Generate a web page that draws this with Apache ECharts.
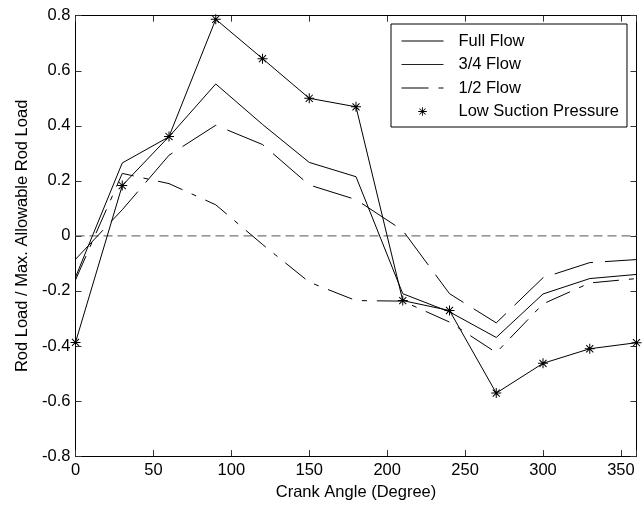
<!DOCTYPE html>
<html><head><meta charset="utf-8">
<script src="https://cdn.jsdelivr.net/npm/echarts@6/dist/echarts.min.js"></script>
<style>html,body{margin:0;padding:0;background:#fff}#c{width:644px;height:506px}</style>
</head><body><div id="c"></div>
<script>
const crankAngle = [0, 30, 60, 90, 120, 150, 180, 210, 240, 270, 300, 330, 360];
const fullFlow = [-0.15, 0.265, 0.36, 0.552, 0.405, 0.267, 0.215, -0.21, -0.276, -0.369, -0.211, -0.155, -0.14];
const threeQuarterFlow = [-0.085, 0.095, 0.293, 0.402, 0.332, 0.185, 0.132, 0.02, -0.21, -0.316, -0.152, -0.097, -0.086];
const halfFlow = [-0.16, 0.227, 0.19, 0.113, -0.031, -0.168, -0.235, -0.237, -0.313, -0.424, -0.247, -0.171, -0.155];
const lowSuction = [-0.387, 0.183, 0.361, 0.787, 0.644, 0.50, 0.469, -0.235, -0.271, -0.571, -0.463, -0.41, -0.388];
const zeroLine = [0, 0];
const zeroLineX = [0, 360];
const seriesNames = ['Full Flow', '3/4 Flow', '1/2 Flow', 'Low Suction Pressure'];

const STAR = 'path://M-0.5,-5L0.5,-5L0.5,5L-0.5,5Z M-5,-0.5L5,-0.5L5,0.5L-5,0.5Z M3.182,-3.889L3.889,-3.182L-3.182,3.889L-3.889,3.182Z M-3.889,-3.182L-3.182,-3.889L3.889,3.182L3.182,3.889Z';
const STAR_LEGEND = 'path://M-0.5,-5L0.5,-5L0.5,5L-0.5,5Z M-5,-0.5L5,-0.5L5,0.5L-5,0.5Z M3.182,-3.889L3.889,-3.182L-3.182,3.889L-3.889,3.182Z M-3.889,-3.182L-3.182,-3.889L3.889,3.182L3.182,3.889Z M-7,-7L-6.99,-7L-6.99,-6.99Z M7,7L6.99,7L6.99,6.99Z';
const ICON_SOLID = 'path://M0,0L42,0L42,1L0,1Z';
const ICON_HALF = 'path://M0,0L27,0L27,1L0,1Z M37,0L42,0L42,1L37,1Z';
const pair = (ys) => crankAngle.map((x, i) => [x, ys[i]]);
const FONT = 'Liberation Sans, Arial, sans-serif';

const chart = echarts.init(document.getElementById('c'), null, {renderer: 'canvas'});
const axisCommon = {
  axisLine: {show: true, onZero: false, lineStyle: {color: '#000', width: 1}},
  axisTick: {show: true, inside: true, length: 6, lineStyle: {color: '#333'}},
  splitLine: {show: false}
};
chart.setOption({
  animation: false,
  backgroundColor: '#fff',
  textStyle: {fontFamily: FONT},
  grid: {left: 75.5, right: 7.5, top: 15.7, bottom: 45.5, containLabel: false},
  xAxis: [
    Object.assign({type: 'value', min: 0, max: 360, interval: 50, position: 'bottom',
      name: 'Crank Angle (Degree)', nameLocation: 'middle', nameGap: 27,
      nameTextStyle: {fontSize: 16.5, color: '#000', fontFamily: FONT},
      axisLabel: {fontSize: 16.5, color: '#000', margin: 6, fontFamily: FONT,
        formatter: v => (v === 360 ? '' : String(v))}}, axisCommon),
    Object.assign({type: 'value', min: 0, max: 360, interval: 50, position: 'top',
      axisLabel: {show: false}}, axisCommon)
  ],
  yAxis: [
    Object.assign({type: 'value', min: -0.8, max: 0.8, interval: 0.2, position: 'left',
      name: 'Rod Load / Max. Allowable Rod Load', nameLocation: 'middle', nameGap: 42,
      nameTextStyle: {fontSize: 16.5, color: '#000', fontFamily: FONT},
      axisLabel: {fontSize: 16.5, color: '#000', margin: 5, fontFamily: FONT,
        formatter: v => String(Math.round(v * 10) / 10)}}, axisCommon),
    Object.assign({type: 'value', min: -0.8, max: 0.8, interval: 0.2, position: 'right',
      axisLabel: {show: false}}, axisCommon)
  ],
  legend: {
    orient: 'vertical', left: 391, top: 24,
    backgroundColor: '#fff', borderColor: '#000', borderWidth: 1, borderRadius: 0,
    padding: [8.5, 8, 7, 10.5],
    itemWidth: 42, itemHeight: 12, itemGap: 6.5,
    textStyle: {fontSize: 16.5, color: '#000', fontFamily: FONT, padding: [0, 0, 0, 10]},
    data: [
      {name: seriesNames[0], icon: ICON_SOLID},
      {name: seriesNames[1], icon: ICON_SOLID},
      {name: seriesNames[2], icon: ICON_HALF},
      {name: seriesNames[3], icon: STAR_LEGEND}
    ]
  },
  series: [
    {name: 'zero', type: 'line', data: zeroLineX.map((x, i) => [x, zeroLine[i]]), symbol: 'none', silent: true,
      lineStyle: {color: '#555', width: 1, type: [9, 5]}, z: 1},
    {name: seriesNames[0], type: 'line', data: pair(fullFlow), symbol: 'none',
      itemStyle: {color: '#000'}, lineStyle: {color: '#000', width: 1}},
    {name: seriesNames[1], type: 'line', data: pair(threeQuarterFlow), symbol: 'none',
      itemStyle: {color: '#222'}, lineStyle: {color: '#000', width: 1, type: [40, 12]}},
    {name: seriesNames[2], type: 'line', data: pair(halfFlow), symbol: 'none',
      itemStyle: {color: '#000'}, lineStyle: {color: '#000', width: 1, type: [26, 10, 5, 10]}},
    {name: seriesNames[3], type: 'line', data: pair(lowSuction), symbol: STAR, symbolSize: 10, showAllSymbol: true,
      itemStyle: {color: '#000'}, lineStyle: {color: '#000', width: 1}}
  ]
});
</script></body></html>
